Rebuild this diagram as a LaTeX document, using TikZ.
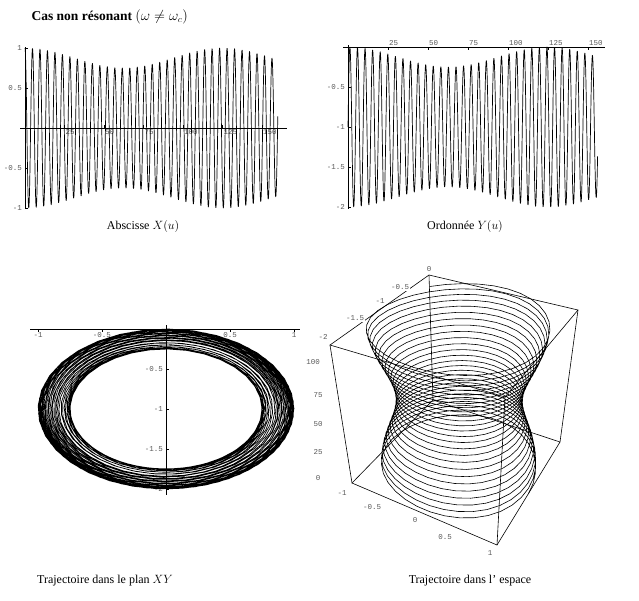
\documentclass[tikz,border=0pt]{standalone}
\usepackage{fontspec}
\setmainfont{Liberation Serif}
\setmonofont{Liberation Mono}
\usetikzlibrary{positioning}
\definecolor{tickColor}{RGB}{90,90,90}
\tikzset{ticklabel/.style={font=\ttfamily\fontsize{7.5}{8}\selectfont, text=tickColor, inner sep=1pt}}
\tikzset{caption/.style={font=\fontsize{12}{14}\selectfont}}
\tikzset{curve/.style={line width=.7pt, line join=round}}
\tikzset{axis/.style={line width=.6pt}}
\begin{document}
\begin{tikzpicture}[x=1pt, y=-1pt,
  declare function={
    rr(\t)=0.875+0.125*cos(2.88*\t);
    XX(\t)=rr(\t)*cos(76*\t);
    YY(\t)=-1+rr(\t)*sin(76*\t);
    px(\a,\b,\c)=(1-\c)*((1-\a)*(1-\b)*352+\a*(1-\b)*497+(1-\a)*\b*433+\a*\b*560)+\c*((1-\a)*(1-\b)*330+\a*(1-\b)*505+(1-\a)*\b*429+\a*\b*578);
    py(\a,\b,\c)=(1-\c)*((1-\a)*(1-\b)*483+\a*(1-\b)*545+(1-\a)*\b*400+\a*\b*442)+\c*((1-\a)*(1-\b)*345+\a*(1-\b)*397+(1-\a)*\b*275+\a*\b*310);
  }]
\useasboundingbox (0,0) rectangle (639,600);

% Title
\node (Title) [anchor=west, font=\bfseries\fontsize{13.5}{15}\selectfont] at (28,17) {Cas non résonant $\bigl(\omega \neq \omega_c\bigr)$};

% Abscisse X(u)
\draw[axis] (25,47) -- (25,209);
\draw[axis] (20,128) -- (287,128);
\foreach \v/\l in {1/1, 0.5/0.5, -0.5/-0.5, -1/-1}
  \draw (25,128-80*\v) -- ++(3,0) node[ticklabel, anchor=east, at start, xshift=-2pt] {\l};
\foreach \u in {25,50,...,150}
  \draw (25+1.58*\u,128) -- ++(0,-3) node[ticklabel, anchor=north west, at start] {\u};
\draw[curve] plot[domain=0:160, samples=1100, variable=\u] ({25+1.58*\u},{128-80*XX(\u)});
\node (CapX) [caption] at (143,226) {Abscisse $X(u)$};

% Ordonnee Y(u)
\draw[axis] (348,45) -- (348,209);
\draw[axis] (343,47) -- (605,47);
\foreach \v/\l in {-0.5/-0.5, -1/-1, -1.5/-1.5, -2/-2}
  \draw (348,47-80*\v) -- ++(3,0) node[ticklabel, anchor=east, at start, xshift=-2pt] {\l};
\foreach \u in {25,50,...,150}
  \draw (348+1.6*\u,47) -- ++(0,3) node[ticklabel, anchor=south west, at start] {\u};
\draw[curve] plot[domain=0:156, samples=1100, variable=\u] ({348+1.6*\u},{47-80*YY(\u)});
\node (CapY) [caption] at (465,226) {Ordonnée $Y(u)$};

% Plan XY
\draw[axis] (30,329) -- (300,329);
\draw[axis] (166,325) -- (166,495);
\foreach \v/\l in {-1/-1, -0.5/-0.5, 0.5/0.5, 1/1}
  \draw (166+128*\v,329) -- ++(0,3) node[ticklabel, anchor=north, at start, yshift=-2pt] {\l};
\foreach \v/\l in {-0.5/-0.5, -1/-1, -1.5/-1.5, -2/-2}
  \draw (166,329-80*\v) -- ++(3,0) node[ticklabel, anchor=east, at start, xshift=-2pt] {\l};
\draw[curve] plot[domain=0:160, samples=1100, variable=\u] ({166+128*XX(\u)},{329-80*YY(\u)});
\node (CapXY) [caption] at (105,581) {Trajectoire dans le plan $XY$};

% Espace
\coordinate (B000) at (352,483);
\coordinate (B100) at (497,545);
\coordinate (B010) at (433,400);
\coordinate (B110) at (560,442);
\coordinate (T001) at (330,345);
\coordinate (T101) at (505,397);
\coordinate (T011) at (429,275);
\coordinate (T111) at (578,310);
\draw[axis] (B000) -- (B100) -- (B110) -- (B010) -- cycle;
\draw[axis] (T001) -- (T101) -- (T111) -- (T011) -- cycle;
\foreach \a/\b in {B000/T001, B100/T101, B010/T011, B110/T111}
  \draw[axis] (\a) -- (\b);
\draw[curve, line width=.6pt] plot[domain=0:125, samples=900, variable=\u]
  ({px((XX(\u)+1)/2,(YY(\u)+2)/2,\u/120)},{py((XX(\u)+1)/2,(YY(\u)+2)/2,\u/120)});
\foreach \p/\l in {{429,269}/0, {400,287}/-0.5, {380,301}/-1, {355,318}/-1.5, {323,337}/-2}
  \node[ticklabel, fill=white] at (\p) {\l};
\foreach \p/\l in {{313,362}/100, {318,395}/75, {318,424}/50, {318,452}/25, {318,478}/0}
  \node[ticklabel] at (\p) {\l};
\foreach \p/\l in {{342,493}/-1, {372,507}/-0.5, {415,520}/0, {445,537}/0.5, {490,553}/1}
  \node[ticklabel] at (\p) {\l};
\node (CapE) [caption] at (470,581) {Trajectoire dans l' espace};

\end{tikzpicture}
\end{document}
